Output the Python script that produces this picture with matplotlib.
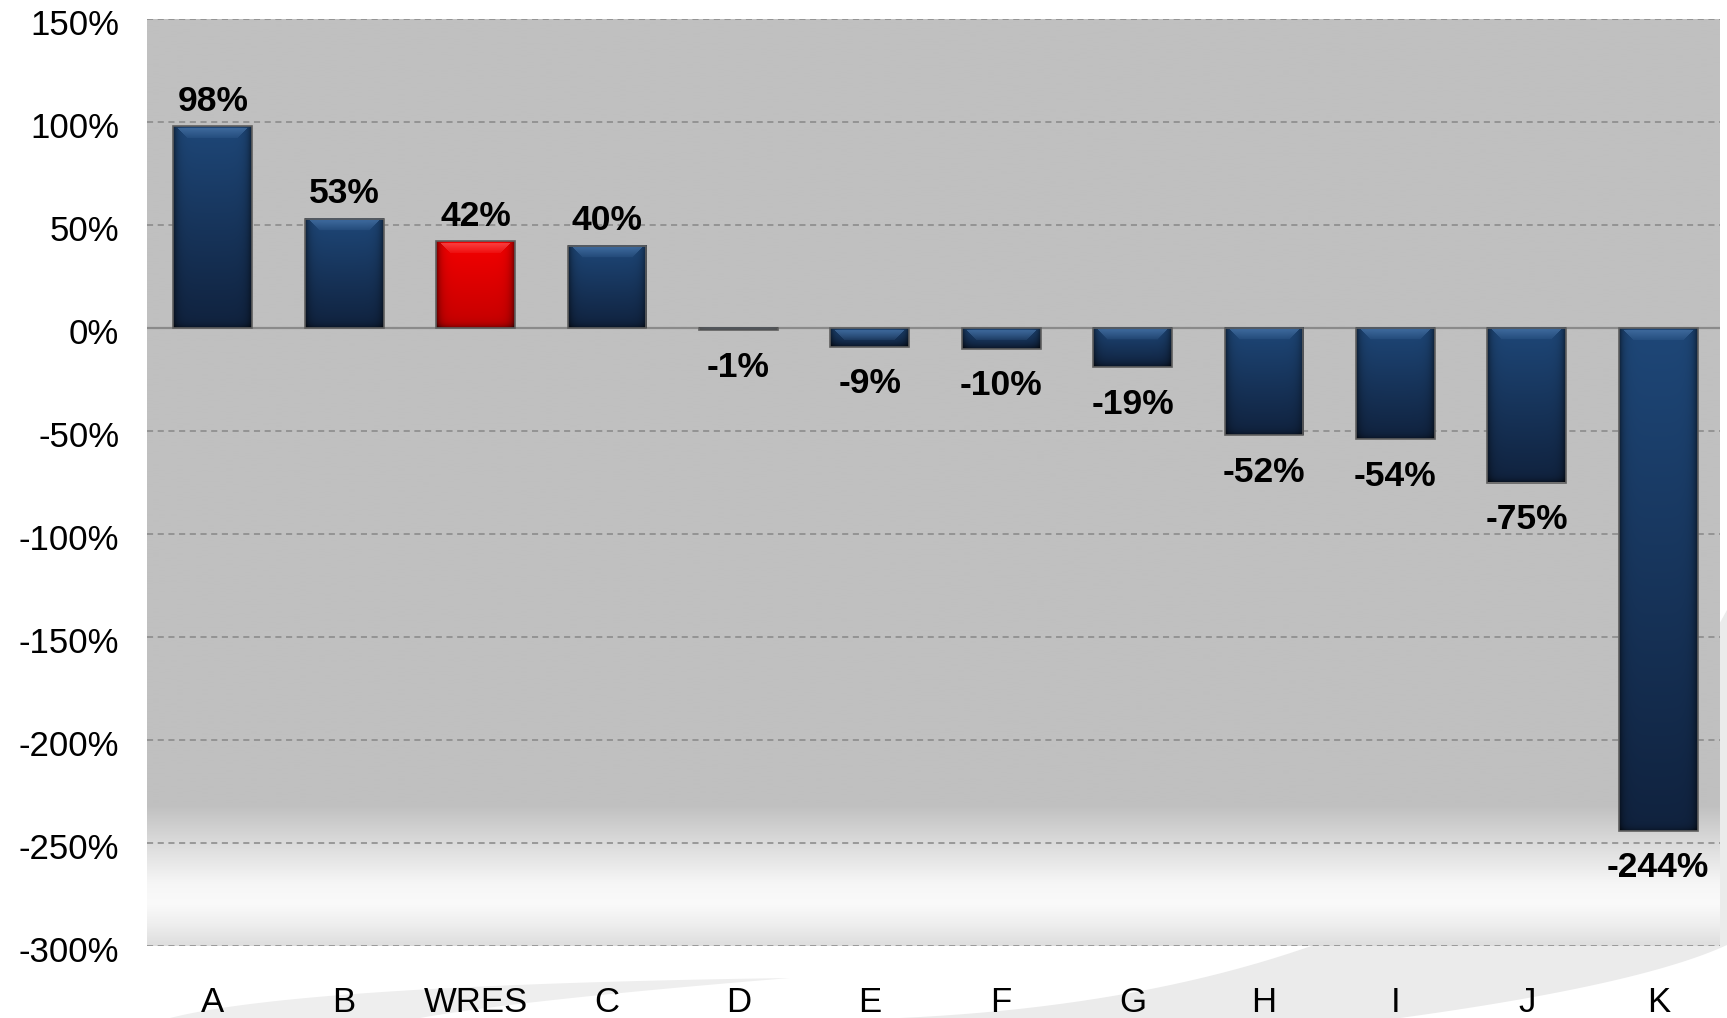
import numpy as np
import matplotlib
matplotlib.use("Agg")
import matplotlib.pyplot as plt
import matplotlib.transforms as mtransforms
from matplotlib.patches import Polygon

plt.rcParams['font.family'] = ['Liberation Sans', 'DejaVu Sans']

categories = ['A', 'B', 'WRES', 'C', 'D', 'E', 'F', 'G', 'H', 'I', 'J', 'K']
values = [98, 53, 42, 40, -1, -9, -10, -19, -52, -54, -75, -244]
highlight = 'WRES'
yticks = [150, 100, 50, 0, -50, -100, -150, -200, -250, -300]
ytick_labels = ['150%', '100%', '50%', '0%', '-50%', '-100%', '-150%',
                '-200%', '-250%', '-300%']

W, H = 1727, 1018
fig = plt.figure(figsize=(W / 100, H / 100), dpi=100)
fig.patch.set_facecolor('white')

# faint swoosh shapes of the slide background
def quad(p0, c, p2, n=60):
    t = np.linspace(0, 1, n)[:, None]
    return (1 - t) ** 2 * np.array(p0) + 2 * (1 - t) * t * np.array(c) + t ** 2 * np.array(p2)

def to_fig(pts):
    pts = pts.copy()
    pts[:, 0] /= W
    pts[:, 1] = 1 - pts[:, 1] / H
    return pts

arc = np.vstack([quad((900, 1018), (1520, 990), (1727, 610)),
                 quad((1727, 945), (1640, 985), (1400, 1018))])
fig.patches.append(Polygon(to_fig(arc), closed=True, transform=fig.transFigure,
                           facecolor='#ebebeb', edgecolor='none', zorder=0))
streak = np.vstack([quad((170, 1018), (300, 985), (790, 978)),
                    quad((790, 978), (520, 1000), (420, 1018))])
fig.patches.append(Polygon(to_fig(streak), closed=True, transform=fig.transFigure,
                           facecolor='#eeeeee', edgecolor='none', zorder=0))

left, right, top, bottom = 147, 1720, 19, 946
ax = fig.add_axes([left / W, 1 - bottom / H, (right - left) / W, (bottom - top) / H])
ax.set_zorder(1)

x = np.arange(len(categories))
xlim = (-0.5, len(categories) - 0.53)
ylim = (-300, 150)
px_per_unit = (bottom - top) / (ylim[1] - ylim[0])

# plot area background: flat grey fading to white near the bottom
ys = np.linspace(ylim[1], ylim[0], 400)
grey = np.interp(ys[::-1], [-300, -290, -280, -270, -250, -232, 150],
                 [222, 238, 250, 246, 218, 192, 192])[::-1] / 255
bg = np.repeat(grey[:, None, None], 3, axis=2)
ax.imshow(bg, extent=[xlim[0], xlim[1], ylim[0], ylim[1]], aspect='auto',
          zorder=0, interpolation='bilinear')

for yv in yticks:
    if yv == 0:
        continue
    ax.axhline(yv, color='#878787', lw=1.1, ls=(0, (4, 3)), zorder=1)
ax.axhline(0, color='#8a8a8a', lw=1.6, zorder=1)

width = 0.6
navy = (np.array([0x1e, 0x47, 0x78]) / 255, np.array([0x10, 0x22, 0x3e]) / 255,
        np.array([0x4f, 0x7c, 0xb0]) / 255)
red = (np.array([0xf4, 0x00, 0x00]) / 255, np.array([0xc4, 0x00, 0x00]) / 255,
       np.array([0xff, 0x60, 0x60]) / 255)


def bevel_image(h_px, w_px, cols):
    c_top, c_bot, c_light = cols
    r = np.arange(h_px)[:, None] + 0.5
    c = np.arange(w_px)[None, :] + 0.5
    t = (r / h_px)[..., None]
    img = c_top * (1 - t) + c_bot * t
    img = np.broadcast_to(img, (h_px, w_px, 3)).copy()
    side = np.minimum(c, w_px - c)
    low = h_px - r
    dark = 1 - 0.6 * np.exp(-side / 4) - 0.45 * np.exp(-low / 3)
    img *= np.clip(dark, 0.2, 1)[..., None]
    # light bevel strip along the top edge, fading downwards
    bev = (r > 2) & (r < 12) & (side > r + 2)
    fade = np.clip(1 - (r - 3) / 12, 0, 1)
    k = (bev * fade * 0.6)[..., None]
    img = img * (1 - k) + c_light * k
    return np.clip(img, 0, 1)


bars = ax.bar(x, values, width=width, facecolor='none', edgecolor='#5f5f5f',
              linewidth=1.2, zorder=3)
bar_w_px = width * (right - left) / (xlim[1] - xlim[0])
for rect, cat, v in zip(bars, categories, values):
    x0 = rect.get_x()
    y0, y1 = sorted([rect.get_y(), rect.get_y() + rect.get_height()])
    h_px = max(int(round(abs(v) * px_per_unit)), 2)
    img = bevel_image(h_px, int(round(bar_w_px)), red if cat == highlight else navy)
    ax.imshow(img, extent=[x0, x0 + width, y0, y1], aspect='auto', zorder=2,
              interpolation='bilinear')

for xi, v in zip(x, values):
    if v >= 0:
        ax.annotate(f'{v}%', (xi, v), xytext=(0, 6), textcoords='offset points',
                    ha='center', va='bottom', fontsize=25.5, fontweight='bold', zorder=4)
    else:
        ax.annotate(f'{v}%', (xi, v), xytext=(0, -15), textcoords='offset points',
                    ha='center', va='top', fontsize=25.5, fontweight='bold', zorder=4)

ax.set_xlim(*xlim)
ax.set_ylim(*ylim)
ax.set_yticks(yticks)
ax.set_yticklabels(ytick_labels)
ax.set_xticks(x)
ax.set_xticklabels(categories)
ax.tick_params(axis='y', length=0, pad=20, labelsize=25)
ax.tick_params(axis='x', length=0, pad=29, labelsize=25)
shift = mtransforms.ScaledTranslation(0, -3 / 100, fig.dpi_scale_trans)
for lab in ax.get_yticklabels():
    lab.set_transform(lab.get_transform() + shift)
for s in ax.spines.values():
    s.set_visible(False)

fig.savefig('out.png', dpi=100)
